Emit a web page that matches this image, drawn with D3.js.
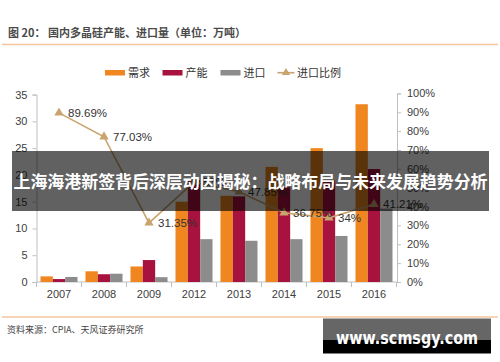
<!DOCTYPE html>
<html><head><meta charset="utf-8">
<script src="https://cdn.jsdelivr.net/npm/d3@7"></script>
<style>
html,body{margin:0;padding:0;background:#fff;}
svg{display:block;}
</style></head>
<body>
<svg id="c" width="500" height="362"></svg>
<script>
const categories = ['2007','2008','2009','2012','2013','2014','2015','2016'];
const demand   = [1.05, 2.0, 2.9, 15.0, 16.1, 21.5, 25.0, 33.2];
const capacity = [0.55, 1.45, 4.1, 19.0, 16.0, 17.7, 19.0, 21.1];
const imports  = [0.94, 1.55, 0.9, 8.0, 7.7, 8.0, 8.6, 13.7];
const ratio    = [89.69, 77.03, 31.35, 53.0, 47.85, 36.75, 34, 41.21];
const ratioLabels = ['89.69%','77.03%','31.35%','53%','47.85%','36.75%','34%','41.21%'];
const leftTicks = [0,5,10,15,20,25,30,35];
const rightTicks = [0,10,20,30,40,50,60,70,80,90,100];
const seriesNames = ['需求','产能','进口'];
const lineName = '进口比例';
const titleText = '图 20：  国内多晶硅产能、进口量（单位：万吨）';
const sourceText = '资料来源：CPIA、天风证券研究所';
const bannerText = '上海海港新签背后深层动因揭秘：战略布局与未来发展趋势分析';
const watermarkText = 'www.scmsgy.com';

const colors = ['#F0861F', '#A8123E', '#8C8C8C'];
const lineColor = '#C9A46E';
const latin = '"Liberation Sans", Arial, "Noto Sans CJK SC", sans-serif';
const cjk = '"Noto Sans CJK SC", "Liberation Sans", sans-serif';

const svg = d3.select('#c');
svg.append('rect').attr('width',500).attr('height',362).attr('fill','#fff');

const defs = svg.append('defs');
const grad = defs.append('linearGradient').attr('id','wm').attr('x1',0).attr('x2',0).attr('y1',0).attr('y2',1);
grad.append('stop').attr('offset','60%').attr('stop-color','#666');
grad.append('stop').attr('offset','60%').attr('stop-color','#000');

// title
svg.append('text').attr('x',8).attr('y',37).text(titleText)
  .attr('font-family',cjk).attr('font-size',11).attr('font-weight','bold').attr('fill','#4a4a4a');
svg.append('line').attr('x1',2).attr('x2',498).attr('y1',44.5).attr('y2',44.5)
  .attr('stroke','#F3C69E').attr('stroke-width',1.5);

// scales
const x = d3.scaleBand().domain(categories).range([36.5, 396.5]).padding(0);
const xs = d3.scaleBand().domain(seriesNames).range([4, 41]).padding(0);
const y = d3.scaleLinear().domain([0,35]).range([282, 94.6]);
const yr = d3.scaleLinear().domain([0,100]).range([282, 93.4]);

const axisColor = '#BFBFBF';
const gl = svg.append('g').attr('transform','translate(36.5,0)')
  .call(d3.axisLeft(y).tickValues(leftTicks).tickSize(4).tickPadding(5));
const gr = svg.append('g').attr('transform','translate(397,0)')
  .call(d3.axisRight(yr).tickValues(rightTicks).tickSize(4).tickPadding(6).tickFormat(d=>d+'%'));
const gb = svg.append('g').attr('transform','translate(0,282)')
  .call(d3.axisBottom(x).tickSize(0).tickPadding(8));
[gl,gr,gb].forEach(g=>{
  g.selectAll('path').attr('stroke',axisColor);
  g.selectAll('line').attr('stroke',axisColor);
  g.selectAll('text').attr('font-family',latin).attr('font-size',11).attr('fill','#404040');
});
gb.selectAll('path').remove();
gb.append('line').attr('x1',36.5).attr('x2',396.5).attr('y1',0).attr('y2',0).attr('stroke',axisColor);
gb.selectAll('.sep').data(categories.concat(['end'])).enter().append('line')
  .attr('x1',(d,i)=> i<categories.length ? x(d) : x(categories[categories.length-1])+x.bandwidth())
  .attr('x2',(d,i)=> i<categories.length ? x(d) : x(categories[categories.length-1])+x.bandwidth())
  .attr('y1',0).attr('y2',5).attr('stroke',axisColor);

// bars
const series = [demand, capacity, imports];
series.forEach((vals, si)=>{
  svg.append('g').selectAll('rect').data(vals).enter().append('rect')
    .attr('x',(d,i)=> x(categories[i]) + xs(seriesNames[si]))
    .attr('width', xs.bandwidth())
    .attr('y', d=> y(d))
    .attr('height', d=> y(0)-y(d))
    .attr('fill', colors[si]);
});

// line
const cx = (i)=> x(categories[i]) + x.bandwidth()/2;
const line = d3.line().x((d,i)=>cx(i)).y(d=>yr(d));
svg.append('path').datum(ratio).attr('d',line).attr('fill','none')
  .attr('stroke',lineColor).attr('stroke-width',1.6);
svg.append('g').selectAll('path').data(ratio).enter().append('path')
  .attr('d', d3.symbol().type(d3.symbolTriangle).size(38))
  .attr('transform',(d,i)=>`translate(${cx(i)},${yr(d)})`)
  .attr('fill',lineColor);
svg.append('g').selectAll('text').data(ratio).enter().append('text')
  .attr('x',(d,i)=>cx(i)+9).attr('y',d=>yr(d)+4)
  .text((d,i)=>ratioLabels[i])
  .attr('font-family',latin).attr('font-size',11.5).attr('fill','#333');

// legend
const leg = svg.append('g').attr('font-family',cjk).attr('font-size',11).attr('fill','#333');
const legX = [105, 162.5, 220.5];
seriesNames.forEach((n,i)=>{
  leg.append('rect').attr('x',legX[i]).attr('y',70).attr('width',20).attr('height',5.5).attr('fill',colors[i]);
  leg.append('text').attr('x',legX[i]+23).attr('y',77).text(n);
});
leg.append('line').attr('x1',277.5).attr('x2',294.5).attr('y1',72.7).attr('y2',72.7)
  .attr('stroke',lineColor).attr('stroke-width',1.6);
leg.append('path').attr('d',d3.symbol().type(d3.symbolTriangle).size(30)).attr('transform','translate(286,72.7)').attr('fill',lineColor);
leg.append('text').attr('x',297).attr('y',77).text(lineName);

// footer
svg.append('line').attr('x1',2).attr('x2',498).attr('y1',317).attr('y2',317)
  .attr('stroke','#F3C69E').attr('stroke-width',1.5);
svg.append('text').attr('x',7).attr('y',333).text(sourceText)
  .attr('font-family',cjk).attr('font-size',9).attr('fill','#444');

// banner overlay
svg.append('rect').attr('x',12).attr('y',151).attr('width',477).attr('height',60)
  .attr('fill','rgba(0,0,0,0.62)');
svg.append('text').attr('x',250.5).attr('y',188).attr('text-anchor','middle').text(bannerText)
  .attr('font-family',cjk).attr('font-size',17).attr('font-weight','bold').attr('fill','#fff')
  .attr('textLength',474).attr('lengthAdjust','spacingAndGlyphs');

// watermark
svg.append('rect').attr('x',323).attr('y',318.5).attr('width',168).attr('height',35).attr('fill','url(#wm)');
svg.append('text').attr('x',336).attr('y',344).text(watermarkText)
  .attr('font-family','"DejaVu Sans", sans-serif').attr('font-size',17).attr('font-weight','bold').attr('fill','#fff')
  .attr('textLength',142).attr('lengthAdjust','spacingAndGlyphs');
</script>
</body></html>
